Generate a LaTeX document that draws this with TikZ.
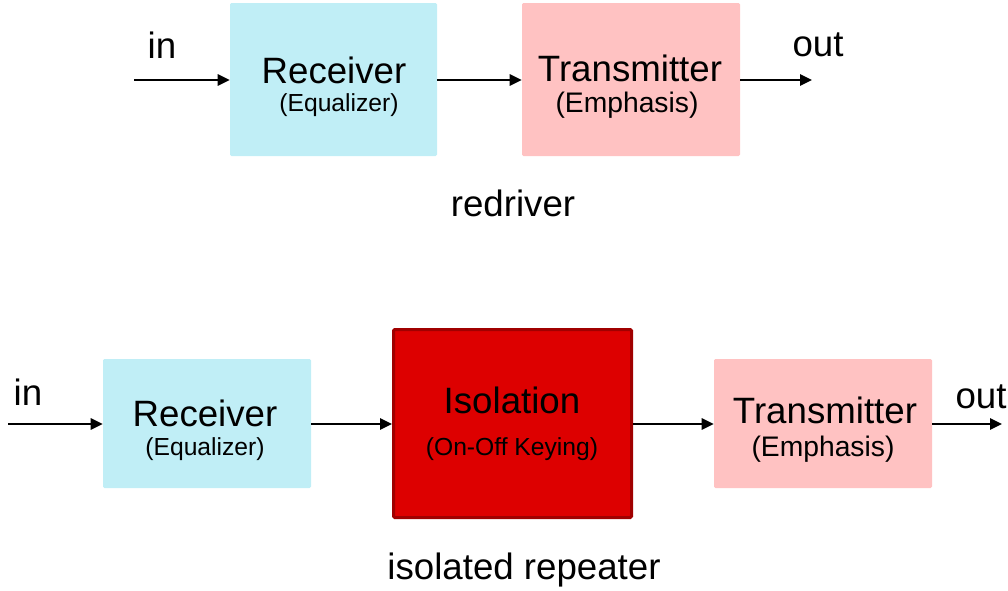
\documentclass[tikz,border=0pt]{standalone}
\usepackage{fontspec}
\setmainfont{Liberation Sans}
\usetikzlibrary{arrows.meta}
\definecolor{rxblue}{RGB}{192,238,246}
\definecolor{txpink}{RGB}{255,194,194}
\definecolor{isofill}{RGB}{221,0,0}
\definecolor{isoedge}{RGB}{160,0,0}
\tikzset{
  box/.style={rectangle, rounded corners=1pt, inner sep=0pt},
  rxbox/.style={box, fill=rxblue},
  txbox/.style={box, fill=txpink},
  isobox/.style={box, fill=isofill, draw=isoedge, line width=2.25pt},
  bigtxt/.style={inner sep=0pt, font=\fontsize{27.5}{32}\selectfont},
  smalltxt/.style={inner sep=0pt, font=\fontsize{18.5}{22}\selectfont},
  midtxt/.style={inner sep=0pt, font=\fontsize{21.2}{25}\selectfont},
  conn/.style={line width=1.6pt, -{Triangle[length=9pt,width=8.5pt]}}
}
\begin{document}
\begin{tikzpicture}[x=0.75pt,y=-0.75pt]
\useasboundingbox (0,0) rectangle (1008,590);
% top row: redriver
\node[rxbox, minimum width=155.25pt, minimum height=114.75pt] (rx1) at (333.5,79.5) {};
\node[txbox, minimum width=163.5pt, minimum height=114.75pt] (tx1) at (631,79.5) {};
\node[bigtxt] (rx1a) at (334,70) {Receiver};
\node[smalltxt] (rx1b) at (339,105) {(Equalizer)};
\node[bigtxt] (tx1a) at (630,68) {Transmitter};
\node[midtxt] (tx1b) at (627,105) {(Emphasis)};
\coordinate (in1) at (134,80);
\coordinate (out1) at (812,80);
\draw[conn] (in1) -- (rx1.west |- in1);
\draw[conn] (rx1.east |- in1) -- (tx1.west |- in1);
\draw[conn] (tx1.east |- in1) -- (out1);
\node[bigtxt] (lin1) at (162,45) {in};
\node[bigtxt] (lout1) at (818,45) {out};
\node[bigtxt] (cap1) at (513,203) {redriver};
% bottom row: isolated repeater
\node[rxbox, minimum width=156pt, minimum height=96.75pt] (rx2) at (207,423.5) {};
\node[isobox, minimum width=178.5pt, minimum height=141pt] (iso) at (512.5,423.5) {};
\node[txbox, minimum width=163.5pt, minimum height=96.75pt] (tx2) at (823,423.5) {};
\node[bigtxt] (rx2a) at (205,413) {Receiver};
\node[smalltxt] (rx2b) at (205,449) {(Equalizer)};
\node[bigtxt] (isoa) at (512,400) {Isolation};
\node[smalltxt] (isob) at (512,449) {(On-Off Keying)};
\node[bigtxt] (tx2a) at (825,410) {Transmitter};
\node[midtxt] (tx2b) at (823,449) {(Emphasis)};
\coordinate (in2) at (8,424);
\coordinate (out2) at (1002,424);
\draw[conn] (in2) -- (rx2.west |- in2);
\draw[conn] (rx2.east |- in2) -- (iso.west |- in2);
\draw[conn] (iso.east |- in2) -- (tx2.west |- in2);
\draw[conn] (tx2.east |- in2) -- (out2);
\node[bigtxt] (lin2) at (28,392) {in};
\node[bigtxt] (lout2) at (981,397) {out};
\node[bigtxt] (cap2) at (524,570) {isolated repeater};
\end{tikzpicture}
\end{document}
